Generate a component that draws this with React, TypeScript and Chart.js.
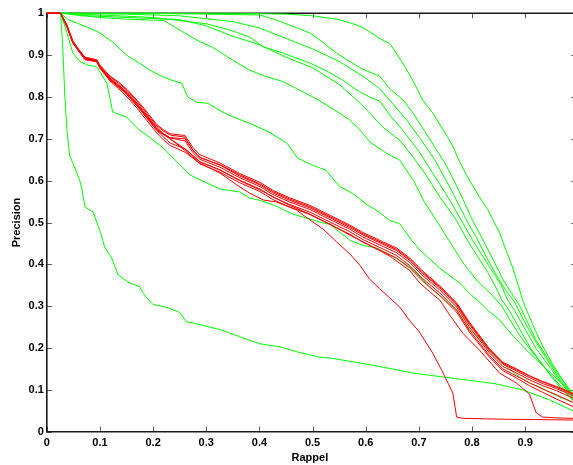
import React, { useEffect, useRef } from "react";
import { Chart, registerables } from "chart.js";

Chart.register(...registerables);

// ---- axis ticks ----
const xTickValues = [0, 0.1, 0.2, 0.3, 0.4, 0.5, 0.6, 0.7, 0.8, 0.9];
const xTickLabels = ["0", "0.1", "0.2", "0.3", "0.4", "0.5", "0.6", "0.7", "0.8", "0.9"];
const yTickValues = [0, 0.1, 0.2, 0.3, 0.4, 0.5, 0.6, 0.7, 0.8, 0.9, 1];
const yTickLabels = ["0", "0.1", "0.2", "0.3", "0.4", "0.5", "0.6", "0.7", "0.8", "0.9", "1"];
const xTitle = "Rappel";
const yTitle = "Precision";

// ---- green curves: [recall, precision] ----
const greenA = [[0, 1], [0.1, 1], [0.36, 1], [0.45, 0.998], [0.5, 0.994], [0.55, 0.985], [0.583, 0.972], [0.6, 0.962], [0.626, 0.94], [0.645, 0.928], [0.66, 0.9], [0.675, 0.87], [0.69, 0.836], [0.707, 0.793], [0.726, 0.762], [0.74, 0.733], [0.754, 0.704], [0.765, 0.68], [0.773, 0.655], [0.79, 0.612], [0.814, 0.561], [0.83, 0.53], [0.84, 0.505], [0.852, 0.475], [0.865, 0.43], [0.876, 0.394], [0.887, 0.35], [0.895, 0.315], [0.903, 0.29], [0.918, 0.245], [0.933, 0.205], [0.95, 0.165], [0.97, 0.125], [0.99, 0.09]];
const greenB = [[0, 1], [0.2, 1], [0.3, 0.998], [0.4, 0.996], [0.43, 0.985], [0.46, 0.97], [0.495, 0.953], [0.52, 0.93], [0.545, 0.905], [0.57, 0.885], [0.595, 0.866], [0.626, 0.85], [0.645, 0.82], [0.67, 0.793], [0.69, 0.76], [0.71, 0.72], [0.73, 0.68], [0.75, 0.64], [0.77, 0.59], [0.785, 0.55], [0.801, 0.505], [0.82, 0.46], [0.84, 0.41], [0.86, 0.36], [0.875, 0.33], [0.89, 0.3], [0.905, 0.26], [0.92, 0.22], [0.94, 0.18], [0.96, 0.14], [0.975, 0.115], [0.99, 0.085]];
const greenB2 = [[0, 1], [0.03, 1], [0.15, 0.998], [0.25, 0.994], [0.35, 0.98], [0.4, 0.965], [0.45, 0.94], [0.5, 0.915], [0.55, 0.885], [0.6, 0.845], [0.626, 0.82], [0.65, 0.785], [0.68, 0.74], [0.7, 0.705], [0.73, 0.65], [0.76, 0.58], [0.79, 0.505], [0.81, 0.46], [0.83, 0.41], [0.85, 0.365], [0.865, 0.335], [0.88, 0.31], [0.9, 0.26], [0.92, 0.215], [0.94, 0.175], [0.96, 0.135], [0.975, 0.11], [0.99, 0.08]];
const greenC = [[0, 1], [0.03, 1], [0.1, 0.996], [0.2, 0.99], [0.3, 0.975], [0.345, 0.96], [0.382, 0.943], [0.407, 0.92], [0.444, 0.905], [0.495, 0.881], [0.53, 0.86], [0.557, 0.84], [0.585, 0.815], [0.607, 0.8], [0.627, 0.79], [0.645, 0.757], [0.67, 0.72], [0.7, 0.67], [0.73, 0.61], [0.755, 0.56], [0.78, 0.505], [0.8, 0.46], [0.82, 0.42], [0.84, 0.38], [0.855, 0.35], [0.867, 0.315], [0.88, 0.29], [0.9, 0.245], [0.92, 0.2], [0.94, 0.165], [0.96, 0.13], [0.975, 0.105], [0.99, 0.08]];
const greenD = [[0, 1], [0.03, 1], [0.08, 0.994], [0.15, 0.99], [0.25, 0.985], [0.3, 0.97], [0.35, 0.945], [0.4, 0.925], [0.45, 0.895], [0.5, 0.87], [0.55, 0.83], [0.583, 0.793], [0.605, 0.765], [0.632, 0.728], [0.664, 0.697], [0.69, 0.655], [0.71, 0.62], [0.74, 0.56], [0.771, 0.505], [0.79, 0.46], [0.81, 0.42], [0.83, 0.38], [0.845, 0.345], [0.856, 0.315], [0.87, 0.29], [0.89, 0.245], [0.91, 0.2], [0.93, 0.165], [0.95, 0.13], [0.97, 0.1], [0.99, 0.075]];
const greenE = [[0, 1], [0.03, 1], [0.06, 0.995], [0.1, 0.99], [0.15, 0.986], [0.194, 0.984], [0.22, 0.983], [0.25, 0.96], [0.288, 0.932], [0.31, 0.92], [0.335, 0.9], [0.36, 0.88], [0.382, 0.864], [0.41, 0.85], [0.444, 0.837], [0.47, 0.82], [0.508, 0.795], [0.54, 0.77], [0.57, 0.745], [0.589, 0.721], [0.61, 0.69], [0.64, 0.665], [0.664, 0.649], [0.69, 0.6], [0.71, 0.55], [0.733, 0.505], [0.76, 0.45], [0.785, 0.4], [0.81, 0.36], [0.835, 0.33], [0.856, 0.3], [0.875, 0.26], [0.895, 0.22], [0.92, 0.18], [0.945, 0.14], [0.97, 0.105], [0.99, 0.075]];
const greenF = [[0, 1], [0.026, 1], [0.04, 0.985], [0.06, 0.975], [0.08, 0.965], [0.1, 0.953], [0.125, 0.93], [0.15, 0.9], [0.175, 0.88], [0.194, 0.864], [0.215, 0.85], [0.235, 0.84], [0.254, 0.833], [0.265, 0.8], [0.283, 0.787], [0.303, 0.785], [0.325, 0.768], [0.345, 0.755], [0.382, 0.737], [0.42, 0.715], [0.452, 0.689], [0.472, 0.654], [0.5, 0.637], [0.525, 0.625], [0.551, 0.586], [0.575, 0.57], [0.6, 0.545], [0.625, 0.525], [0.645, 0.505], [0.664, 0.497], [0.685, 0.46], [0.702, 0.434], [0.74, 0.39], [0.777, 0.355], [0.8, 0.325], [0.814, 0.31], [0.83, 0.29], [0.852, 0.267], [0.88, 0.225], [0.908, 0.188], [0.94, 0.15], [0.965, 0.12], [0.99, 0.088]];
const greenG = [[0, 1], [0.026, 1], [0.038, 0.953], [0.049, 0.905], [0.062, 0.885], [0.075, 0.877], [0.094, 0.872], [0.113, 0.833], [0.124, 0.764], [0.15, 0.752], [0.175, 0.72], [0.188, 0.709], [0.219, 0.678], [0.245, 0.645], [0.269, 0.614], [0.3, 0.595], [0.326, 0.58], [0.363, 0.573], [0.382, 0.558], [0.401, 0.553], [0.43, 0.54], [0.463, 0.52], [0.49, 0.51], [0.514, 0.501], [0.533, 0.495], [0.57, 0.458], [0.595, 0.445], [0.621, 0.439], [0.65, 0.42], [0.683, 0.394], [0.702, 0.37], [0.72, 0.346], [0.739, 0.325], [0.771, 0.291], [0.795, 0.245], [0.814, 0.222], [0.835, 0.19], [0.852, 0.171], [0.87, 0.15], [0.889, 0.131], [0.91, 0.115], [0.927, 0.107], [0.945, 0.095], [0.965, 0.083], [0.99, 0.07]];
const greenH = [[0, 1], [0.026, 1], [0.03, 0.92], [0.034, 0.8], [0.038, 0.72], [0.043, 0.66], [0.053, 0.63], [0.062, 0.6], [0.066, 0.58], [0.072, 0.537], [0.087, 0.525], [0.1, 0.48], [0.109, 0.441], [0.122, 0.415], [0.134, 0.375], [0.152, 0.358], [0.175, 0.346], [0.182, 0.33], [0.188, 0.32], [0.2, 0.304], [0.226, 0.297], [0.25, 0.285], [0.263, 0.263], [0.288, 0.256], [0.326, 0.244], [0.363, 0.227], [0.401, 0.21], [0.438, 0.203], [0.476, 0.189], [0.514, 0.178], [0.533, 0.176], [0.6, 0.162], [0.65, 0.15], [0.689, 0.14], [0.75, 0.13], [0.8, 0.122], [0.846, 0.114], [0.895, 0.1], [0.946, 0.076], [0.99, 0.05]];

// ---- red curves: bundle sharing one recall grid ----
const redRecall = [0, 0.026, 0.038, 0.049, 0.06, 0.072, 0.094, 0.1, 0.119, 0.135, 0.151, 0.17, 0.181, 0.207, 0.219, 0.232, 0.26, 0.275, 0.288, 0.326, 0.363, 0.401, 0.425, 0.457, 0.495, 0.533, 0.57, 0.595, 0.632, 0.658, 0.683, 0.708, 0.739, 0.771, 0.795, 0.833, 0.858, 0.884, 0.908, 0.933, 0.959, 0.99];
const redP1 = [1, 1, 0.972, 0.934, 0.914, 0.895, 0.889, 0.876, 0.85, 0.836, 0.818, 0.792, 0.776, 0.734, 0.722, 0.712, 0.708, 0.679, 0.662, 0.642, 0.617, 0.596, 0.577, 0.559, 0.541, 0.517, 0.494, 0.476, 0.454, 0.439, 0.415, 0.383, 0.349, 0.308, 0.262, 0.198, 0.166, 0.15, 0.134, 0.12, 0.108, 0.092];
const redP2 = [1, 1, 0.97, 0.933, 0.913, 0.894, 0.888, 0.874, 0.848, 0.833, 0.815, 0.789, 0.772, 0.731, 0.719, 0.709, 0.704, 0.672, 0.656, 0.637, 0.611, 0.59, 0.571, 0.553, 0.535, 0.511, 0.488, 0.47, 0.448, 0.433, 0.409, 0.377, 0.344, 0.303, 0.256, 0.193, 0.161, 0.145, 0.129, 0.115, 0.103, 0.086];
const redP3 = [1, 1, 0.97, 0.932, 0.912, 0.893, 0.888, 0.873, 0.845, 0.829, 0.811, 0.785, 0.768, 0.727, 0.713, 0.702, 0.695, 0.667, 0.651, 0.632, 0.607, 0.586, 0.567, 0.549, 0.531, 0.507, 0.484, 0.465, 0.443, 0.428, 0.404, 0.372, 0.339, 0.298, 0.25, 0.188, 0.156, 0.14, 0.124, 0.11, 0.098, 0.08];
const redP4 = [1, 1, 0.968, 0.93, 0.91, 0.891, 0.887, 0.871, 0.841, 0.824, 0.805, 0.779, 0.761, 0.72, 0.705, 0.69, 0.676, 0.66, 0.645, 0.626, 0.601, 0.58, 0.561, 0.543, 0.525, 0.501, 0.478, 0.459, 0.437, 0.421, 0.397, 0.365, 0.332, 0.291, 0.243, 0.182, 0.15, 0.133, 0.117, 0.102, 0.088, 0.07];
const redP5 = [1, 1, 0.967, 0.929, 0.909, 0.89, 0.886, 0.869, 0.838, 0.82, 0.8, 0.773, 0.755, 0.714, 0.698, 0.684, 0.668, 0.654, 0.64, 0.62, 0.595, 0.574, 0.555, 0.537, 0.519, 0.495, 0.472, 0.453, 0.431, 0.415, 0.391, 0.359, 0.326, 0.286, 0.238, 0.178, 0.146, 0.128, 0.11, 0.094, 0.078, 0.06];
const redP6 = [1, 1, 0.969, 0.931, 0.911, 0.892, 0.887, 0.872, 0.843, 0.826, 0.808, 0.782, 0.765, 0.724, 0.711, 0.703, 0.7, 0.673, 0.655, 0.638, 0.614, 0.592, 0.574, 0.556, 0.538, 0.514, 0.491, 0.473, 0.451, 0.436, 0.412, 0.38, 0.346, 0.305, 0.259, 0.196, 0.164, 0.148, 0.133, 0.119, 0.106, 0.09];

// red curve that collapses near recall 0.77
const redLowRecall = [0, 0.026, 0.038, 0.049, 0.072, 0.094, 0.1, 0.119, 0.151, 0.181, 0.207, 0.232, 0.26, 0.288, 0.326, 0.363, 0.382, 0.407, 0.432, 0.47, 0.482, 0.52, 0.545, 0.57, 0.589, 0.607, 0.626, 0.645, 0.664, 0.683, 0.7, 0.714, 0.726, 0.745, 0.764, 0.768, 0.771, 0.783, 0.85, 0.92, 0.99];
const redLowPrecision = [1, 1, 0.968, 0.93, 0.89, 0.885, 0.87, 0.843, 0.81, 0.765, 0.724, 0.7, 0.672, 0.642, 0.618, 0.585, 0.57, 0.554, 0.549, 0.53, 0.518, 0.484, 0.454, 0.425, 0.398, 0.365, 0.342, 0.32, 0.298, 0.265, 0.24, 0.212, 0.188, 0.142, 0.092, 0.06, 0.035, 0.032, 0.03, 0.029, 0.028];

// red curve that collapses near recall 0.92
const redDropRecall = [0, 0.026, 0.038, 0.049, 0.072, 0.094, 0.1, 0.119, 0.151, 0.181, 0.207, 0.232, 0.26, 0.288, 0.326, 0.363, 0.401, 0.457, 0.495, 0.533, 0.57, 0.608, 0.645, 0.683, 0.702, 0.72, 0.739, 0.76, 0.783, 0.814, 0.852, 0.884, 0.908, 0.915, 0.921, 0.933, 0.96, 0.99];
const redDropPrecision = [1, 1, 0.967, 0.929, 0.889, 0.884, 0.869, 0.841, 0.806, 0.762, 0.72, 0.7, 0.676, 0.645, 0.625, 0.6, 0.578, 0.541, 0.52, 0.496, 0.47, 0.445, 0.42, 0.385, 0.355, 0.335, 0.315, 0.275, 0.235, 0.195, 0.14, 0.116, 0.09, 0.065, 0.045, 0.035, 0.033, 0.032];

const GREEN = "#00ff00";
const RED = "#ff0000";
const FONT = { family: "'Liberation Sans', Arial, Helvetica, sans-serif", size: 11, weight: "bold" as const };

export default function App() {
  const ref = useRef<HTMLCanvasElement>(null);

  useEffect(() => {
    const fromPairs = (arr: number[][]) => arr.map(([x, y]) => ({ x, y }));
    const fromLists = (xs: number[], ys: number[]) => xs.map((x, i) => ({ x, y: ys[i] }));
    const line = (data: { x: number; y: number }[], color: string) => ({
      data,
      borderColor: color,
      backgroundColor: color,
      borderWidth: 1,
      pointRadius: 0,
      tension: 0,
      fill: false,
      clip: false as const,
    });

    const datasets = [
      line(fromLists(redRecall, redP1), RED),
      line(fromLists(redRecall, redP2), RED),
      line(fromLists(redRecall, redP3), RED),
      line(fromLists(redRecall, redP4), RED),
      line(fromLists(redRecall, redP5), RED),
      line(fromLists(redRecall, redP6), RED),
      line(fromLists(redLowRecall, redLowPrecision), RED),
      line(fromLists(redDropRecall, redDropPrecision), RED),
      line(fromPairs(greenA), GREEN),
      line(fromPairs(greenB), GREEN),
      line(fromPairs(greenB2), GREEN),
      line(fromPairs(greenC), GREEN),
      line(fromPairs(greenD), GREEN),
      line(fromPairs(greenE), GREEN),
      line(fromPairs(greenF), GREEN),
      line(fromPairs(greenG), GREEN),
      line(fromPairs(greenH), GREEN),
    ];

    const axesPlugin = {
      id: "matlabAxes",
      beforeDatasetsDraw(chart: any) {
        const { ctx, chartArea, scales } = chart;
        const xs = scales.x;
        const ys = scales.y;
        const W = chart.width;
        const tick = 5;
        ctx.save();
        ctx.strokeStyle = "#555";
        ctx.lineWidth = 1;
        ctx.beginPath();
        xTickValues.forEach((v) => {
          const px = Math.round(xs.getPixelForValue(v)) + 0.5;
          ctx.moveTo(px, chartArea.bottom);
          ctx.lineTo(px, chartArea.bottom - tick);
          ctx.moveTo(px, chartArea.top);
          ctx.lineTo(px, chartArea.top + tick);
        });
        const xRight = xs.getPixelForValue(1);
        yTickValues.forEach((v) => {
          const py = Math.round(ys.getPixelForValue(v)) + 0.5;
          ctx.moveTo(chartArea.left, py);
          ctx.lineTo(chartArea.left + tick, py);
          ctx.moveTo(xRight, py);
          ctx.lineTo(xRight - tick - 2, py);
        });
        ctx.stroke();
        ctx.strokeStyle = "#1a1a1a";
        ctx.lineWidth = 1.6;
        ctx.beginPath();
        ctx.moveTo(chartArea.left, chartArea.top);
        ctx.lineTo(chartArea.left, chartArea.bottom);
        ctx.moveTo(chartArea.left - 0.8, chartArea.bottom);
        ctx.lineTo(W, chartArea.bottom);
        ctx.moveTo(chartArea.left - 0.8, chartArea.top);
        ctx.lineTo(W, chartArea.top);
        ctx.stroke();
        ctx.restore();
      },
    };

    const chart = new Chart(ref.current as HTMLCanvasElement, {
      type: "line",
      data: { datasets: datasets as any },
      options: {
        animation: false,
        responsive: false,
        events: [],
        layout: { padding: { top: 13.3, left: 0, right: 0, bottom: 0 } },
        plugins: { legend: { display: false }, tooltip: { enabled: false }, title: { display: false } },
        scales: {
          x: {
            type: "linear",
            min: 0,
            max: 0.99,
            grid: { display: false, drawTicks: false },
            border: { display: false },
            afterBuildTicks: (s: any) => {
              s.ticks = xTickValues.map((v) => ({ value: v }));
            },
            afterFit: (s: any) => {
              s.height = 33.3;
            },
            ticks: {
              autoSkip: false,
              maxRotation: 0,
              padding: 5,
              color: "#000",
              font: FONT,
              callback: (_v: any, i: number) => xTickLabels[i],
            },
            title: { display: true, text: xTitle, color: "#000", font: FONT, padding: { top: 0, bottom: 0.5 } },
          },
          y: {
            type: "linear",
            min: 0,
            max: 1,
            grid: { display: false, drawTicks: false },
            border: { display: false },
            afterBuildTicks: (s: any) => {
              s.ticks = yTickValues.map((v) => ({ value: v }));
            },
            afterFit: (s: any) => {
              s.width = 46.8;
            },
            ticks: {
              autoSkip: false,
              padding: 3,
              color: "#000",
              font: FONT,
              callback: (_v: any, i: number) => yTickLabels[i],
            },
            title: { display: true, text: yTitle, color: "#000", font: FONT, padding: { top: 10, bottom: 0 } },
          },
        },
      } as any,
      plugins: [axesPlugin],
    });
    return () => chart.destroy();
  }, []);

  return (
    <canvas
      ref={ref}
      width={573}
      height={465}
      style={{ position: "fixed", left: 0, top: 0, width: 573, height: 465, background: "#fff" }}
    />
  );
}
